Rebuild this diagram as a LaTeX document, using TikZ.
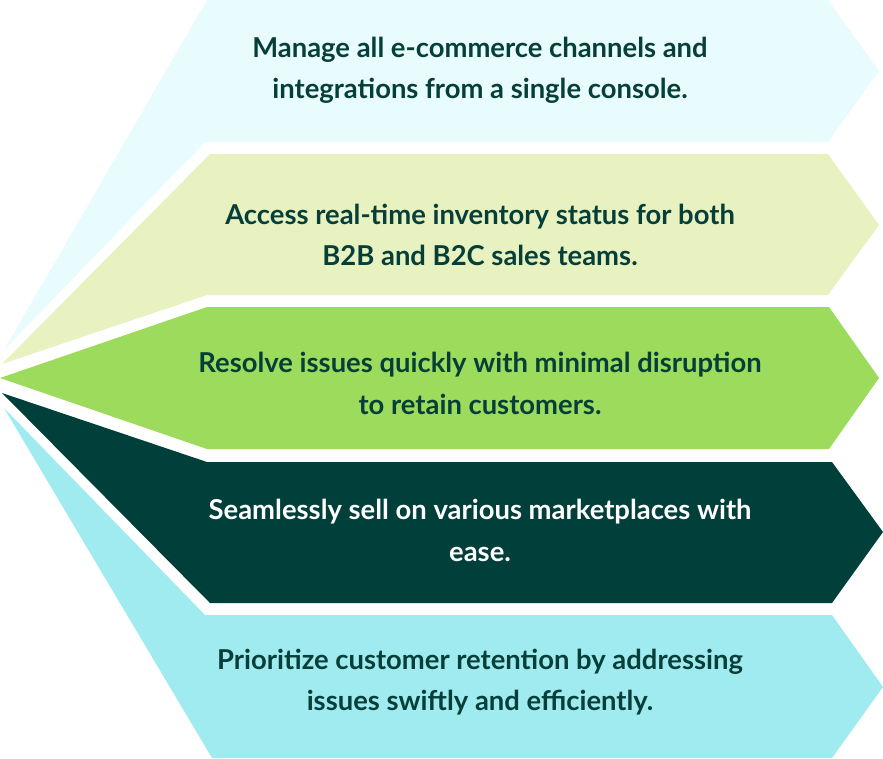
\documentclass[tikz,border=0pt]{standalone}
\usepackage{fontspec}
\setmainfont{Lato}
\definecolor{cA}{HTML}{E8FCFD}
\definecolor{cB}{HTML}{E7F2C0}
\definecolor{cC}{HTML}{9CDB5C}
\definecolor{cD}{HTML}{003F3A}
\definecolor{cE}{HTML}{A0EBF0}
\definecolor{txt}{HTML}{063F39}
\tikzset{
  lbl/.style={anchor=base, inner sep=0pt, font=\fontsize{27.4}{32}\selectfont\bfseries, text=txt},
  lblw/.style={lbl, text=white}
}
\begin{document}
\begin{tikzpicture}[x=1pt, y=-1pt]
\useasboundingbox (0,0) rectangle (883,758);
\fill[cA] (207,0) -- (828,0) -- (879,71) -- (828,142) -- (205,142) -- (4,350) -- cycle;
\fill[cB] (210,154) -- (828,154) -- (879,225) -- (828,295) -- (207,295) -- (2,364) -- cycle;
\fill[cC] (207,307) -- (829,307) -- (879,378) -- (829,449) -- (207,449) -- (0,378) -- cycle;
\fill[cD] (207,462) -- (832,462) -- (883,532) -- (832,603) -- (210,603) -- (2,393) -- cycle;
\fill[cE] (205,615) -- (832,615) -- (883,687) -- (832,758) -- (212,758) -- (4,408) -- cycle;
\node[lbl] (t1a) at (480,57) {Manage all e-commerce channels and};
\node[lbl] (t1b) at (480,98) {integrations from a single console.};
\node[lbl] (t2a) at (480,224) {Access real-time inventory status for both};
\node[lbl] (t2b) at (480,265) {B2B and B2C sales teams.};
\node[lbl] (t3a) at (480,372) {Resolve issues quickly with minimal disruption};
\node[lbl] (t3b) at (480,414) {to retain customers.};
\node[lblw] (t4a) at (480,519) {Seamlessly sell on various marketplaces with};
\node[lblw] (t4b) at (480,561) {ease.};
\node[lbl] (t5a) at (480,669) {Prioritize customer retention by addressing};
\node[lbl] (t5b) at (480,710) {issues swiftly and efficiently.};
\end{tikzpicture}
\end{document}
